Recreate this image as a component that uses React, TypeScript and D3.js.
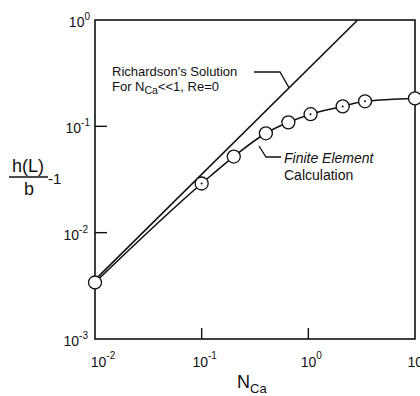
import React, { useEffect, useRef } from 'react';
import * as d3 from 'd3';

// Finite element results (N_Ca, h(L)/b - 1)
const feN = [0.01, 0.1, 0.2, 0.4, 0.65, 1.05, 2.1, 3.4, 10];
const feH = [0.0034, 0.029, 0.052, 0.086, 0.109, 0.13, 0.154, 0.172, 0.183];
const feDotted = [false, true, false, false, false, true, true, true, false];

// Richardson's solution (straight line in log-log)
const richN = [0.01, 2.9];
const richH = [0.0036, 1];

const xTicks = [0.01, 0.1, 1, 10];
const xTickExp = ['-2', '-1', '0', '1'];
const yTicks = [1, 0.1, 0.01, 0.001];
const yTickExp = ['0', '-1', '-2', '-3'];

const FONT = '"Liberation Sans", Arial, sans-serif';

const App = () => {
  const svgRef = useRef<SVGSVGElement>(null);

  useEffect(() => {
    const svg = d3.select(svgRef.current);
    svg.selectAll('*').remove();

    const left = 95, right = 415, top = 20, bottom = 339;
    const x = d3.scaleLog().domain([0.01, 10]).range([left, right]);
    const y = d3.scaleLog().domain([0.001, 1]).range([bottom, top]);

    const g = svg.append('g').style('font-family', FONT).attr('fill', '#111');

    // frame
    g.append('rect')
      .attr('x', left).attr('y', top)
      .attr('width', right - left).attr('height', bottom - top)
      .attr('fill', 'none').attr('stroke', '#111').attr('stroke-width', 1.6);

    // inward ticks
    xTicks.slice(1, 3).forEach(t => {
      g.append('line')
        .attr('x1', x(t)).attr('x2', x(t))
        .attr('y1', bottom).attr('y2', bottom - 11)
        .attr('stroke', '#111').attr('stroke-width', 1.4);
    });
    yTicks.slice(1, 3).forEach(t => {
      g.append('line')
        .attr('x1', left).attr('x2', left + 12)
        .attr('y1', y(t)).attr('y2', y(t))
        .attr('stroke', '#111').attr('stroke-width', 1.4);
    });

    // y tick labels
    yTicks.forEach((t, i) => {
      const txt = g.append('text')
        .attr('x', i < 2 ? 90 : 88).attr('y', y(t) + 7)
        .attr('text-anchor', 'end')
        .style('font-size', '14px');
      txt.append('tspan').text('10');
      txt.append('tspan').attr('dy', -7).style('font-size', '10px').text(yTickExp[i]);
    });

    // x tick labels (the last one runs off the edge, as in the original)
    xTicks.forEach((t, i) => {
      const txt = g.append('text')
        .attr('x', x(t) + (i === 0 ? 8 : 3)).attr('y', 367)
        .attr('text-anchor', 'middle')
        .style('font-size', '14px');
      txt.append('tspan').text('10');
      txt.append('tspan').attr('dy', -8).style('font-size', '10px').text(xTickExp[i]);
    });

    // x axis title
    const xt = g.append('text').attr('x', 237).attr('y', 388).style('font-size', '18px');
    xt.append('tspan').text('N');
    xt.append('tspan').attr('dy', 5).style('font-size', '13px').text('Ca');

    // y axis title
    g.append('text').attr('x', 28).attr('y', 172).attr('text-anchor', 'middle')
      .style('font-size', '18px').text('h(L)');
    g.append('line').attr('x1', 9).attr('x2', 48).attr('y1', 177).attr('y2', 177)
      .attr('stroke', '#111').attr('stroke-width', 1.6);
    g.append('text').attr('x', 29).attr('y', 195).attr('text-anchor', 'middle')
      .style('font-size', '18px').text('b');
    g.append('text').attr('x', 48).attr('y', 184)
      .style('font-size', '15px').text('-1');

    // Richardson line
    const rich = richN.map((n, i) => [n, richH[i]] as [number, number]);
    g.append('path')
      .datum(rich)
      .attr('d', d3.line<[number, number]>().x(d => x(d[0])).y(d => y(d[1])))
      .attr('fill', 'none').attr('stroke', '#111').attr('stroke-width', 1.6);

    // finite element curve
    const fe = feN.map((n, i) => [n, feH[i]] as [number, number]);
    g.append('path')
      .datum(fe)
      .attr('d', d3.line<[number, number]>().x(d => x(d[0])).y(d => y(d[1])).curve(d3.curveMonotoneX))
      .attr('fill', 'none').attr('stroke', '#111').attr('stroke-width', 1.6);

    g.selectAll('circle.fe')
      .data(fe)
      .enter()
      .append('circle')
      .attr('class', 'fe')
      .attr('cx', d => x(d[0])).attr('cy', d => y(d[1]))
      .attr('r', 6.5)
      .attr('fill', 'white').attr('stroke', '#111').attr('stroke-width', 1.3);

    g.selectAll('circle.dot')
      .data(fe.filter((_, i) => feDotted[i]))
      .enter()
      .append('circle')
      .attr('class', 'dot')
      .attr('cx', d => x(d[0])).attr('cy', d => y(d[1]))
      .attr('r', 1).attr('fill', '#111');

    // annotations
    g.append('text').attr('x', 112).attr('y', 76).style('font-size', '13px')
      .text("Richardson's Solution");
    const r2 = g.append('text').attr('x', 112).attr('y', 91).style('font-size', '13px');
    r2.append('tspan').text('For N');
    r2.append('tspan').attr('dy', 3).style('font-size', '10.5px').text('Ca');
    r2.append('tspan').attr('dy', -3).text('<<1, Re=0');

    const richAt = (n: number) => richH[0] * Math.pow(n / richN[0],
      Math.log(richH[1] / richH[0]) / Math.log(richN[1] / richN[0]));
    g.append('path')
      .attr('d', d3.line()([[254, 72], [280, 72], [x(0.66), y(richAt(0.66))]]))
      .attr('fill', 'none').attr('stroke', '#111').attr('stroke-width', 1.3);

    g.append('text').attr('x', 284).attr('y', 163)
      .style('font-size', '14px').style('font-style', 'italic').text('Finite Element');
    g.append('text').attr('x', 284).attr('y', 180)
      .style('font-size', '14px').text('Calculation');
    g.append('path')
      .attr('d', d3.line()([[281, 157], [266, 157], [259, 146]]))
      .attr('fill', 'none').attr('stroke', '#111').attr('stroke-width', 1.3);
  }, []);

  return (
    <svg ref={svgRef} width={420} height={396}
      style={{ position: 'absolute', left: 0, top: 0, background: 'white' }} />
  );
};

export default App;
